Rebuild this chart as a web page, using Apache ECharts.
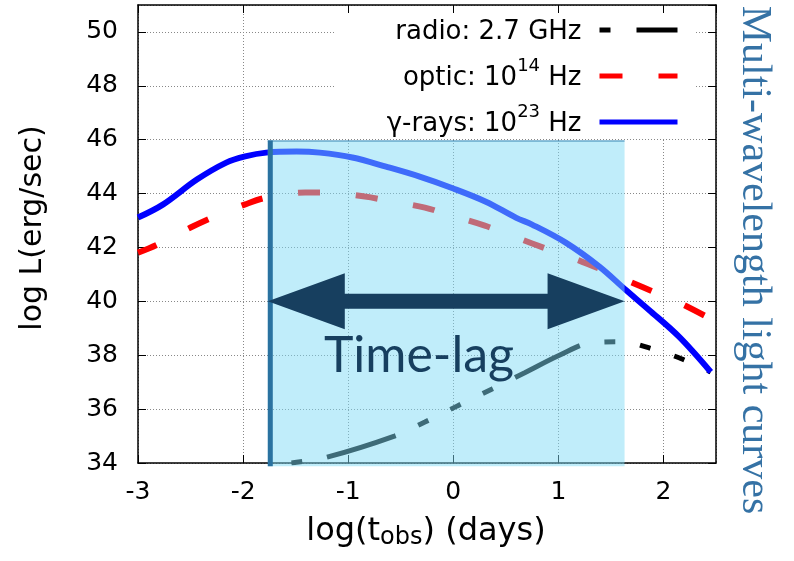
<!DOCTYPE html>
<html><head><meta charset="utf-8">
<script src="https://cdn.jsdelivr.net/npm/echarts@6/dist/echarts.min.js"></script>
<style>html,body{margin:0;padding:0;background:#fff}#c{width:794px;height:561px}</style>
</head><body><div id="c"></div>
<script>
// ---- data ----
const xTicks = [-3, -2, -1, 0, 1, 2];
const yTicks = [34, 36, 38, 40, 42, 44, 46, 48, 50];
const radioX = [-1.54, -1.2, -0.56, -0.27, 0.04, 0.37, 0.68, 1.01, 1.31, 1.6, 1.92, 2.17, 2.45];
const radioY = [34.0, 34.22, 35.0, 35.52, 36.12, 36.75, 37.35, 38.0, 38.46, 38.5, 38.2, 37.87, 37.38];
const opticX = [-3, -2.82, -2.5, -2.3, -1.98, -1.78, -1.41, -1.2, -0.84, -0.63, -0.27, -0.05, 0.3, 0.58, 0.91, 1.13, 1.46, 1.64, 1.97, 2.15, 2.45];
const opticY = [41.81, 42.1, 42.74, 43.1, 43.6, 43.85, 44.04, 44.04, 43.89, 43.74, 43.48, 43.22, 42.81, 42.4, 41.92, 41.62, 41.1, 40.8, 40.25, 39.95, 39.35];
const gammaX = [-3, -2.76, -2.44, -2.16, -1.98, -1.78, -1.49, -1.27, -0.96, -0.64, -0.32, 0, 0.31, 0.6, 0.75, 1.07, 1.39, 1.64, 1.86, 2.15, 2.45];
const gammaY = [43.11, 43.6, 44.52, 45.15, 45.38, 45.52, 45.56, 45.52, 45.34, 45.0, 44.63, 44.19, 43.7, 43.1, 42.85, 42.18, 41.29, 40.43, 39.69, 38.68, 37.38];
const seriesNames = ['radio', 'optic', 'gamma'];
const legendLabels = {
  radio: '{t|radio: 2.7 GHz}',
  optic: '{t|optic: 10}{sup|14}{t| Hz}',
  gamma: '{t|γ-rays: 10}{sup|23}{t| Hz}'
};
const lagStart = -1.765, lagEnd = 1.63, lagTop = 45.97, lagBottom = 33.88, lagLevel = 40;

const pairs = (xs, ys) => xs.map((x, i) => [x, ys[i]]);
const chart = echarts.init(document.getElementById('c'));
const axisCommon = {
  type: 'value',
  axisLine: { show: true, onZero: false, lineStyle: { color: '#000', width: 1.5 } },
  axisTick: { show: true, inside: true, length: 8, lineStyle: { color: '#000', width: 1 } }
};
chart.setOption({
  animation: false,
  grid: { left: 138, right: 78, top: 5, bottom: 98 },
  xAxis: [
    Object.assign({}, axisCommon, {
      min: -3, max: 2.5, interval: 1, position: 'bottom',
      axisLabel: { show: true, showMaxLabel: false, margin: 17, fontSize: 25, fontFamily: 'DejaVu Sans', color: '#000' },
      splitLine: { show: true, lineStyle: { color: '#888', width: 1, type: [1, 2] } }
    }),
    Object.assign({}, axisCommon, {
      min: -3, max: 2.5, interval: 1, position: 'top', z: 3,
      axisLabel: { show: false }, splitLine: { show: false }
    })
  ],
  yAxis: [
    Object.assign({}, axisCommon, {
      min: 34, max: 51, interval: 2, position: 'left',
      axisLabel: { show: true, showMaxLabel: false, margin: 20, fontSize: 25, fontFamily: 'DejaVu Sans', color: '#000' },
      splitLine: { show: true, lineStyle: { color: '#888', width: 1, type: [1, 2] } }
    }),
    Object.assign({}, axisCommon, {
      min: 34, max: 51, interval: 2, position: 'right', z: 3,
      axisLabel: { show: false }, splitLine: { show: false }
    })
  ],
  legend: {
    orient: 'vertical', right: 114, top: 19, align: 'right',
    itemWidth: 78, itemHeight: 14, itemGap: 12, padding: 0,
    selectedMode: false,
    itemStyle: { color: 'rgba(0,0,0,0)', borderWidth: 0, opacity: 0 },
    formatter: n => legendLabels[n],
    textStyle: {
      color: '#000', padding: [0, 13, 0, 0],
      rich: {
        t: { fontSize: 26, lineHeight: 30, verticalAlign: 'bottom', fontFamily: 'DejaVu Sans', color: '#000' },
        sup: { fontSize: 18, lineHeight: 18, padding: [0, 0, 16, 0], verticalAlign: 'bottom', fontFamily: 'DejaVu Sans', color: '#000' }
      }
    },
    data: [
      { name: 'radio', lineStyle: { type: [11, 26, 41], width: 5 } },
      { name: 'optic', lineStyle: { type: [25, 36], width: 5 } },
      { name: 'gamma', lineStyle: { width: 5 } }
    ]
  },
  graphic: [
    { type: 'rect', z: 1, silent: true, shape: { x: 334, y: 6, width: 362, height: 133 }, style: { fill: '#fff' } },
    { type: 'text', z: 10, x: 33, y: 228, rotation: Math.PI / 2,
      style: { text: 'log L(erg/sec)', fontSize: 30, fontFamily: 'DejaVu Sans', fill: '#000', align: 'center', verticalAlign: 'middle' } },
    { type: 'text', z: 10, x: 426, y: 532,
      style: { text: '{a|log(t}{b|obs}{a|) (days)}', fill: '#000', align: 'center', verticalAlign: 'middle',
        rich: { a: { fontSize: 32, lineHeight: 36, fontFamily: 'DejaVu Sans', fill: '#000' },
                b: { fontSize: 24, lineHeight: 14, verticalAlign: 'bottom', fontFamily: 'DejaVu Sans', fill: '#000' } } } },
    { type: 'text', z: 10, x: 754, y: 260, rotation: -Math.PI / 2,
      style: { text: 'Multi-wavelength light curves', fontSize: 42, fontFamily: 'Liberation Serif', fill: '#3572a5', align: 'center', verticalAlign: 'middle' } },
    { type: 'text', z: 10, x: 419, y: 356,
      style: { text: 'Time-lag', fontSize: 50, fontFamily: 'Lato', fill: '#173f5f', align: 'center', verticalAlign: 'middle' } }
  ],
  series: [
    { name: 'radio', type: 'line', z: 2, symbol: 'none', smooth: 0.35,
      data: pairs(radioX, radioY), color: '#000',
      lineStyle: { color: '#000', width: 5, type: [11, 25, 72, 25, 11, 25, 11, 25], cap: 'butt' } },
    { name: 'optic', type: 'line', z: 2, symbol: 'none', smooth: 0.35,
      data: pairs(opticX, opticY), color: '#f00',
      lineStyle: { color: '#f00', width: 6, type: [22, 36], dashOffset: 2, cap: 'butt' } },
    { name: 'gamma', type: 'line', z: 2, symbol: 'none', smooth: 0.35,
      data: pairs(gammaX, gammaY), color: '#00f',
      lineStyle: { color: '#00f', width: 6 } },
    { type: 'custom', z: 3, silent: true, clip: false,
      data: [[lagStart, lagTop, lagEnd, lagBottom]],
      renderItem: (p, api) => {
        const a = api.coord([api.value(0), api.value(1)]);
        const b = api.coord([api.value(2), api.value(3)]);
        return { type: 'group', children: [
          { type: 'rect', shape: { x: a[0], y: a[1], width: b[0] - a[0], height: b[1] - a[1] }, style: { fill: 'rgba(126,218,245,0.49)' } },
          { type: 'line', shape: { x1: a[0], y1: a[1] + 0.5, x2: b[0], y2: a[1] + 0.5 }, style: { stroke: 'rgba(40,120,170,0.6)', lineWidth: 1.5 } },
          { type: 'line', shape: { x1: a[0] + 2.5, y1: a[1], x2: a[0] + 2.5, y2: b[1] }, style: { stroke: '#2a72a0', lineWidth: 5 } }
        ] };
      } },
    { type: 'custom', z: 4, silent: true, clip: false,
      data: [[lagStart, lagEnd, lagLevel]],
      renderItem: (p, api) => {
        const l = api.coord([api.value(0), api.value(2)]);
        const r = api.coord([api.value(1), api.value(2)]);
        const y = l[1], hl = 77, hh = 28, sh = 7.5;
        const pts = [[l[0], y], [l[0] + hl, y - hh], [l[0] + hl, y - sh], [r[0] - hl, y - sh], [r[0] - hl, y - hh],
                     [r[0], y], [r[0] - hl, y + hh], [r[0] - hl, y + sh], [l[0] + hl, y + sh], [l[0] + hl, y + hh]];
        return { type: 'polygon', shape: { points: pts }, style: { fill: '#173f5f' } };
      } }
  ]
});
</script></body></html>
